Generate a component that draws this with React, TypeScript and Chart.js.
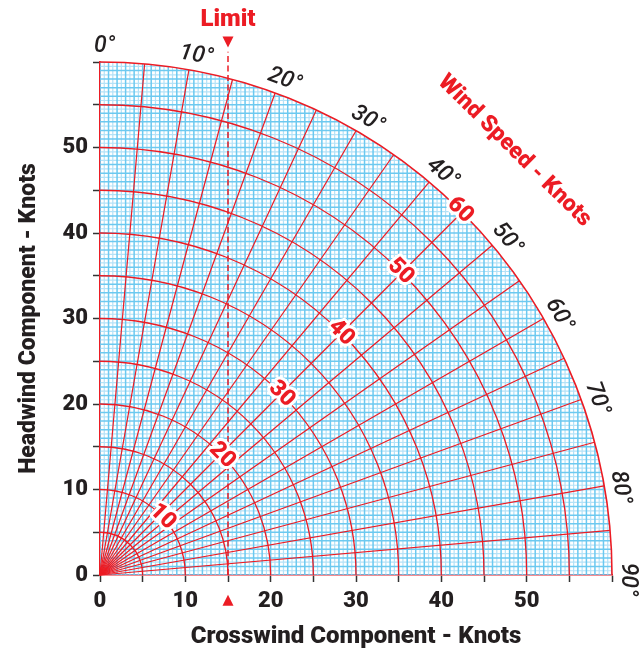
import { useEffect, useRef } from "react";
import { Chart, registerables } from "chart.js";

Chart.register(...registerables);

// ---- data ----
const maxSpeed = 60;
const speedRings = [5, 10, 15, 20, 25, 30, 35, 40, 45, 50, 55, 60];
const radialAngles = [5, 10, 15, 20, 25, 30, 35, 40, 45, 50, 55, 60, 65, 70, 75, 80, 85];
const angleLabels = [0, 10, 20, 30, 40, 50, 60, 70, 80, 90];
const speedLabels = [10, 20, 30, 40, 50, 60];
const axisTickLabels = [0, 10, 20, 30, 40, 50];
const limitCrosswind = 15;
const gridStep = 0.5;

const RED = "#ec1c24";
const INK = "#231f20";
const FONT = "Roboto, 'Open Sans', sans-serif";

const polarPlugin = {
  id: "polarWind",
  beforeDatasetsDraw(chart: any) {
    const { ctx, scales } = chart;
    const x = scales.x;
    const y = scales.y;
    const ox = x.getPixelForValue(0);
    const oy = y.getPixelForValue(0);
    const rx = (v: number) => x.getPixelForValue(v) - ox;
    const ry = (v: number) => oy - y.getPixelForValue(v);
    const pt = (r: number, deg: number) => {
      const a = (deg * Math.PI) / 180;
      return [x.getPixelForValue(r * Math.sin(a)), y.getPixelForValue(r * Math.cos(a))];
    };

    ctx.save();
    // blue grid clipped to the quarter circle
    ctx.save();
    ctx.beginPath();
    ctx.moveTo(ox, oy);
    ctx.ellipse(ox, oy, rx(maxSpeed), ry(maxSpeed), 0, -Math.PI / 2, 0);
    ctx.closePath();
    ctx.clip();
    const n = Math.round(maxSpeed / gridStep);
    for (let pass = 0; pass < 2; pass++) {
      for (let i = 0; i <= n; i++) {
        const v = i * gridStep;
        const major = i % 2 === 0;
        if ((pass === 0) === major) continue;
        ctx.strokeStyle = major ? "#6cc9f0" : "#b4e2f7";
        ctx.lineWidth = major ? 1.5 : 1.2;
        const px = x.getPixelForValue(v);
        ctx.beginPath();
        ctx.moveTo(px, y.getPixelForValue(0));
        ctx.lineTo(px, y.getPixelForValue(maxSpeed));
        ctx.stroke();
        const py = y.getPixelForValue(v);
        ctx.beginPath();
        ctx.moveTo(x.getPixelForValue(0), py);
        ctx.lineTo(x.getPixelForValue(maxSpeed), py);
        ctx.stroke();
      }
    }
    ctx.restore();

    // red rings
    ctx.strokeStyle = RED;
    for (const r of speedRings) {
      ctx.lineWidth = r === maxSpeed ? 1.6 : 1.3;
      ctx.beginPath();
      ctx.ellipse(ox, oy, rx(r), ry(r), 0, -Math.PI / 2, 0);
      ctx.stroke();
    }
    // radial lines
    ctx.lineWidth = 1.2;
    for (const a of radialAngles) {
      const [ex, ey] = pt(maxSpeed, a);
      ctx.beginPath();
      ctx.moveTo(ox, oy);
      ctx.lineTo(ex, ey);
      ctx.stroke();
    }

    // limit dashed line
    const lx = x.getPixelForValue(limitCrosswind);
    ctx.lineWidth = 1.5;
    ctx.setLineDash([6, 3.5]);
    ctx.beginPath();
    ctx.moveTo(lx, oy);
    ctx.lineTo(lx, y.getPixelForValue(61.2));
    ctx.stroke();
    ctx.setLineDash([]);

    // triangles
    ctx.fillStyle = RED;
    const ty = y.getPixelForValue(62.4);
    ctx.beginPath();
    ctx.moveTo(lx - 5.5, ty - 5);
    ctx.lineTo(lx + 5.5, ty - 5);
    ctx.lineTo(lx, ty + 6);
    ctx.closePath();
    ctx.fill();
    const by = y.getPixelForValue(-3);
    ctx.beginPath();
    ctx.moveTo(lx - 5.5, by + 5);
    ctx.lineTo(lx + 5.5, by + 5);
    ctx.lineTo(lx, by - 6);
    ctx.closePath();
    ctx.fill();

    // Limit label
    ctx.font = `900 24px ${FONT}`;
    ctx.textAlign = "center";
    ctx.textBaseline = "middle";
    ctx.fillText("Limit", lx, y.getPixelForValue(64.9));

    // angle labels
    ctx.fillStyle = INK;
    ctx.font = `italic 500 23px ${FONT}`;
    for (const a of angleLabels) {
      const [lxp, lyp] = pt(61.8, a + 0.5);
      ctx.save();
      ctx.translate(lxp, lyp);
      ctx.rotate((a * Math.PI) / 180);
      ctx.fillText(`${a}°`, 0, 0);
      ctx.restore();
    }

    // speed labels with white halo
    ctx.font = `900 23px ${FONT}`;
    ctx.lineJoin = "round";
    for (const s of speedLabels) {
      const [sx, sy] = pt(s, 44.2 + (0.5 / s) * (180 / Math.PI));
      ctx.save();
      ctx.translate(sx, sy);
      ctx.rotate(Math.PI / 4);
      ctx.strokeStyle = "#ffffff";
      ctx.lineWidth = 6;
      ctx.strokeText(String(s), 0, 0);
      ctx.fillStyle = RED;
      ctx.fillText(String(s), 0, 0);
      ctx.restore();
    }

    // Wind Speed - Knots
    const [wx, wy] = pt(69.4, 44.4);
    ctx.save();
    ctx.translate(wx, wy);
    ctx.rotate((44.6 * Math.PI) / 180);
    ctx.fillStyle = RED;
    ctx.font = `900 23px ${FONT}`;
    ctx.fillText("Wind Speed - Knots", 0, 0);
    ctx.restore();

    ctx.restore();
  },
};

export default function App() {
  const ref = useRef<HTMLCanvasElement | null>(null);
  useEffect(() => {
    document.body.style.margin = "0";
    const canvas = ref.current;
    if (!canvas) return;
    const tickCb = (v: any) => (axisTickLabels.includes(Number(v)) ? String(v) : "");
    const chart = new Chart(canvas, {
      type: "scatter",
      data: { datasets: [] },
      options: {
        animation: false,
        responsive: false,
        maintainAspectRatio: false,
        devicePixelRatio: 1,
        layout: { padding: { left: 8, right: 29, top: 62, bottom: 0 } },
        plugins: { legend: { display: false }, tooltip: { enabled: false } },
        scales: {
          x: {
            type: "linear",
            min: 0,
            max: maxSpeed,
            afterFit: (s: any) => {
              s.height = 84;
            },
            ticks: {
              stepSize: 5,
              autoSkip: false,
              maxRotation: 0,
              padding: 6,
              color: INK,
              font: { family: FONT, size: 22, weight: "900" },
              callback: tickCb,
            },
            grid: { drawOnChartArea: false, drawTicks: true, tickLength: 7, tickColor: "#333333", tickWidth: 1.5 },
            border: { display: true, color: RED, width: 1.6 },
            title: {
              display: true,
              text: "Crosswind Component - Knots",
              color: INK,
              font: { family: FONT, size: 24, weight: "900" },
              padding: { top: 0, bottom: 8 },
            },
          },
          y: {
            type: "linear",
            min: 0,
            max: maxSpeed,
            afterFit: (s: any) => {
              s.width = 92;
            },
            ticks: {
              stepSize: 5,
              autoSkip: false,
              padding: 5,
              color: INK,
              font: { family: FONT, size: 22, weight: "900" },
              callback: tickCb,
            },
            grid: { drawOnChartArea: false, drawTicks: true, tickLength: 7, tickColor: "#333333", tickWidth: 1.5 },
            border: { display: true, color: RED, width: 1.6 },
            title: {
              display: true,
              text: "Headwind Component - Knots",
              color: INK,
              font: { family: FONT, size: 23, weight: "900" },
              padding: { top: 7, bottom: 0 },
            },
          },
        },
      },
      plugins: [polarPlugin],
    } as any);
    return () => chart.destroy();
  }, []);
  return (
    <div style={{ width: 641, height: 659 }}>
      <canvas ref={ref} width={641} height={659} style={{ display: "block" }} />
    </div>
  );
}
